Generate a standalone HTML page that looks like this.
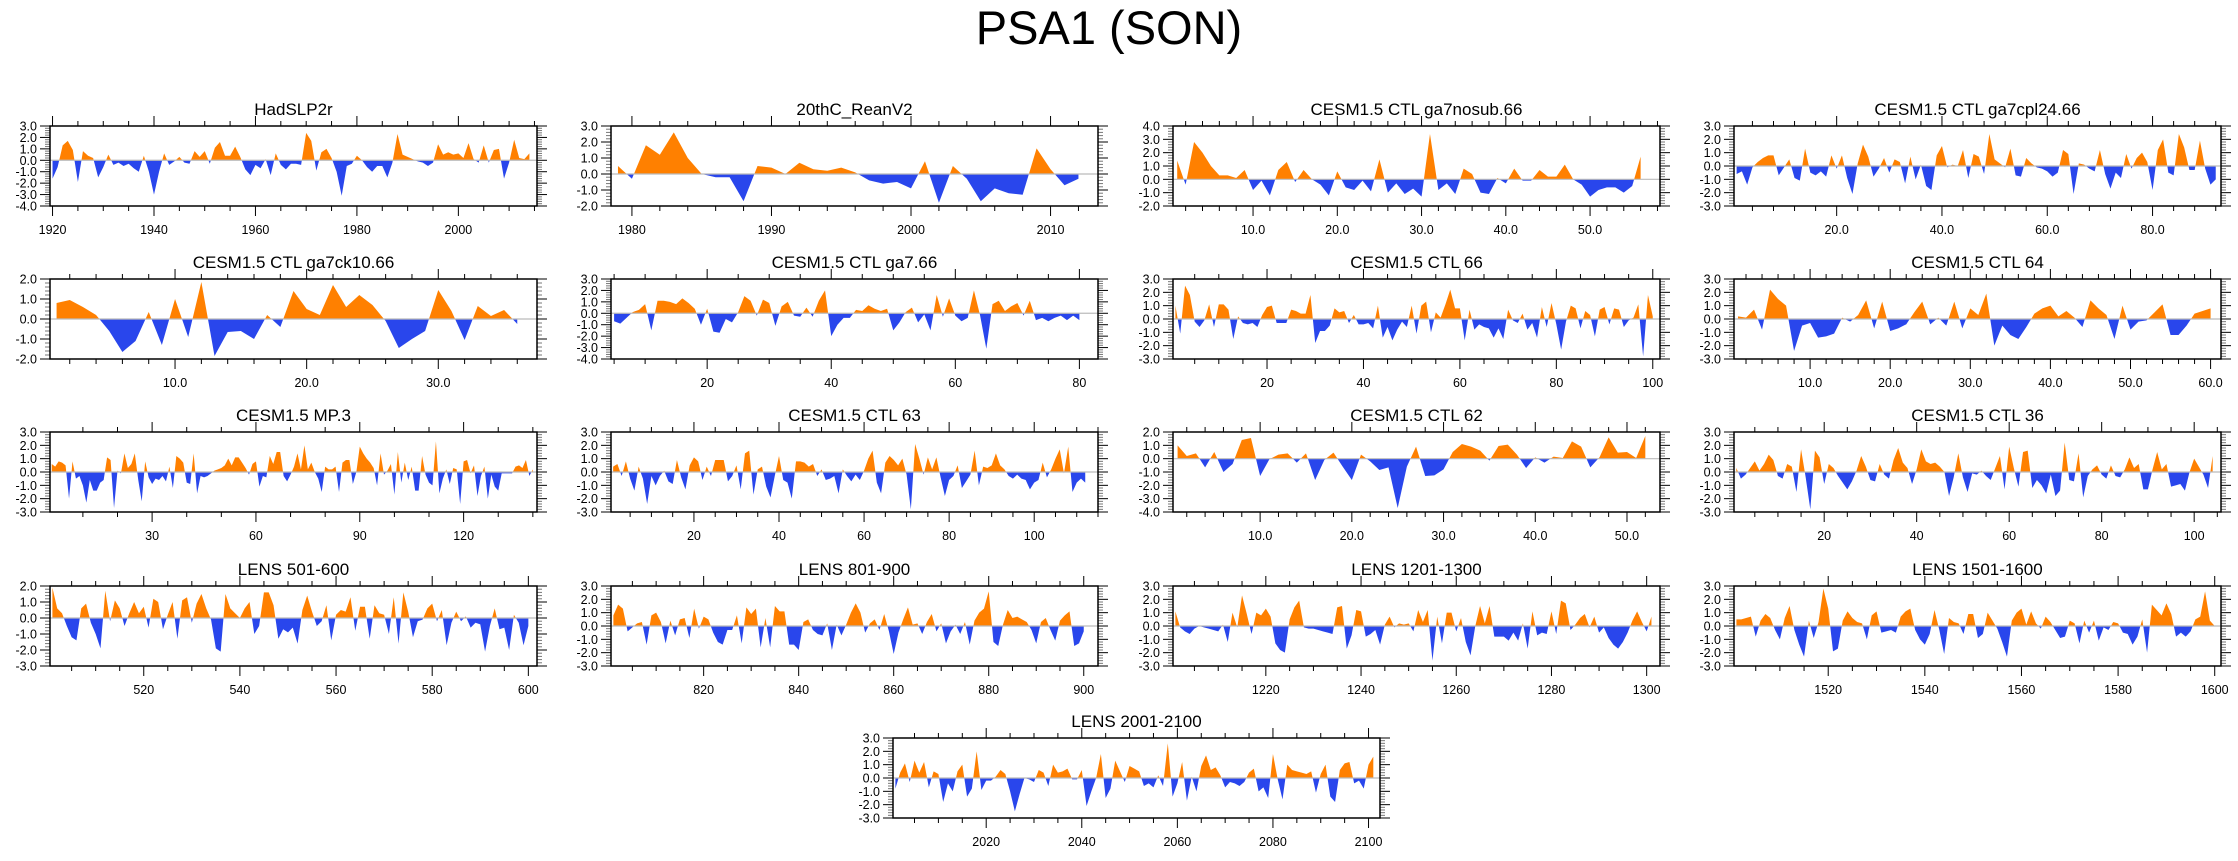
<!DOCTYPE html>
<html><head><meta charset="utf-8">
<style>
html,body{margin:0;padding:0;background:#fff;}
svg text{font-family:"Liberation Sans",Arial,sans-serif;}
</style></head>
<body>
<svg id="fig" width="2238" height="856" viewBox="0 0 2238 856" xmlns="http://www.w3.org/2000/svg">
<rect width="2238" height="856" fill="#fff"/>
<text x="1109" y="44" font-size="47" text-anchor="middle">PSA1 (SON)</text>
</svg>
<script>
const hadslp2r=[-1.6,-0.6,1.3,1.7,0.9,-1.9,0.8,0.4,0.2,-1.5,-0.6,0.5,-0.4,-0.2,-0.5,-0.3,-0.7,-1.0,0.4,-1.0,-3.0,-1.0,0.6,-0.4,-0.1,0.3,-0.2,-0.3,0.8,0.3,0.8,-0.3,1.1,1.6,0.4,0.4,1.2,0.3,-0.8,-1.3,-0.4,-0.7,0.1,-1.3,0.6,-0.4,-0.8,-0.3,-0.3,-0.4,2.4,1.7,-0.9,0.7,1.0,0.2,-1.0,-3.1,-0.5,-0.3,0.4,0.0,-0.6,-1.0,-0.5,-0.5,-1.5,-0.2,2.3,0.5,0.3,0.1,-0.1,-0.2,-0.5,-0.2,1.4,0.5,0.7,0.5,0.6,0.2,1.5,0.1,-0.2,1.3,-0.2,0.9,1.0,-1.6,-0.2,1.8,0.2,0.1,0.6];
const reanv2=[0.5,-0.3,1.8,1.2,2.6,1.0,0.0,-0.2,-0.2,-1.7,0.5,0.4,0.0,0.7,0.3,0.2,0.4,0.1,-0.4,-0.6,-0.5,-0.9,0.8,-1.8,0.5,-0.3,-1.7,-0.9,-1.2,-1.3,1.6,0.3,-0.7,-0.3];
const ga7nosub=[1.4,-0.4,2.8,2.0,1.0,0.3,0.3,0.1,0.7,-0.8,-0.1,-1.2,0.7,1.3,-0.2,0.7,0.0,-0.4,-1.2,0.6,-0.6,-0.8,-0.1,-0.9,1.5,-1.0,-0.3,-1.1,-0.7,-1.3,3.4,-0.8,-0.3,-1.1,0.8,0.4,-1.0,-1.1,0.1,-0.3,0.8,-0.1,-0.1,0.7,0.2,0.2,1.1,0.0,-0.4,-1.3,-0.8,-0.6,-0.6,-1.0,-0.5,1.7];
const ga7cpl24=[-0.6,-0.4,-1.4,-0.1,0.3,0.6,0.8,0.8,-0.7,-0.1,0.5,-0.9,-1.1,1.3,-0.5,-0.7,-0.4,-0.8,0.8,-0.2,0.8,-0.9,-2.1,0.2,1.6,0.7,-0.8,-0.2,0.6,-0.5,0.5,0.3,-1.3,0.7,-1.0,0.1,-1.5,-1.8,0.8,1.5,-0.1,0.1,0.0,1.2,-0.9,0.9,0.7,-0.6,2.4,0.5,0.2,-0.1,1.3,-0.7,-0.8,0.6,0.2,-0.1,-0.2,-0.4,-0.8,-0.5,1.2,0.9,-2.1,0.2,0.1,-0.2,-0.4,1.2,-0.6,-1.7,-0.5,-0.9,0.9,-0.2,0.6,1.0,0.3,-1.8,1.2,2.0,-0.5,-0.7,2.4,1.4,-0.3,-0.3,1.9,-0.2,-1.4,-1.0];
const ga7ck10=[0.8,0.95,0.6,0.2,-0.6,-1.65,-1.1,0.35,-1.3,1.0,-0.9,1.85,-1.85,-0.65,-0.6,-1.0,0.2,-0.4,1.4,0.5,0.2,1.7,0.6,1.2,0.7,-0.1,-1.45,-1.0,-0.6,1.45,0.4,-1.05,0.65,0.15,0.45,-0.25];
const ga766=[-0.7,-0.9,-0.4,0.1,0.3,0.8,-1.5,1.1,1.1,1.0,0.8,1.3,0.9,0.4,-1.0,0.4,-1.6,-1.7,-0.5,-0.8,0.1,1.5,1.1,-0.2,1.2,0.9,-1.1,0.6,1.0,-0.2,-0.3,0.5,-0.3,1.1,2.0,-2.0,-1.0,-0.4,-0.4,0.3,0.2,0.7,0.4,0.2,0.4,-1.5,-0.8,0.1,0.5,-0.8,-0.1,-1.5,1.6,-0.3,1.3,-0.2,-0.7,-0.4,2.0,-0.2,-3.1,0.8,1.1,0.2,0.6,0.9,-0.2,1.1,-0.6,-0.4,-0.7,-0.4,-0.2,-0.6,-0.2,-0.6];
const ctl66=[1.0,-1.1,2.5,1.8,-0.2,-0.6,-0.1,1.1,-0.6,1.1,1.1,0.7,-1.5,0.2,-0.3,-0.4,-0.3,-0.6,0.3,0.9,1.0,-0.3,-0.3,-0.3,0.7,0.6,0.4,0.4,1.8,-1.8,-0.9,-0.9,-0.5,0.8,0.5,0.6,-0.3,0.3,-0.4,-0.4,-0.3,-0.7,1.0,-1.4,-0.6,-1.6,-0.8,-0.2,-0.6,1.0,-1.1,1.0,1.3,-1.0,0.5,0.1,1.1,2.2,0.8,0.8,-1.6,0.7,-0.8,-0.4,-0.6,-0.7,-1.4,-0.7,-1.5,0.7,-0.1,-0.3,0.4,-0.8,-0.3,-1.4,0.9,-0.6,1.2,-0.4,-2.3,-0.2,1.0,0.8,-0.7,0.6,0.3,-1.3,0.7,0.9,-0.4,0.8,0.7,-0.6,-0.1,0.1,1.1,-2.8,1.8,0.2];
const ctl64=[0.2,0.1,0.7,-0.8,2.2,1.5,1.0,-2.4,-0.5,-0.3,-1.4,-1.3,-1.1,0.1,-0.2,0.3,1.4,-0.7,1.3,-0.9,-0.7,-0.4,0.5,1.3,-0.4,0.1,-0.5,1.3,-0.7,0.8,0.3,1.9,-2.0,-0.5,-1.2,-1.5,-0.6,0.4,0.8,1.0,0.2,0.6,0.1,-0.6,1.4,0.8,0.3,-1.5,1.0,-0.8,-0.2,-0.1,0.5,1.1,-1.2,-1.2,-0.5,0.4,0.6,0.8];
const mp3=[0.6,0.4,0.8,0.7,0.5,-2.0,0.8,-0.5,-0.3,-1.0,-2.3,-0.6,-1.4,-1.4,-0.8,-0.6,1.1,0.9,-2.7,0.1,-0.1,1.4,0.3,0.6,1.4,-0.6,-2.2,0.8,-0.4,-0.9,-0.5,-0.6,-0.3,-0.7,0.4,-1.2,1.2,1.0,0.7,-0.8,-0.9,1.4,-1.6,-0.3,-0.4,-0.3,-0.1,0.1,0.2,0.3,0.5,1.0,0.5,1.1,1.1,0.7,0.3,-0.2,0.6,0.8,-1.1,-0.3,-0.4,1.2,0.6,1.5,1.5,-0.3,-0.7,-0.2,0.4,1.4,0.2,2.0,0.2,0.7,0.0,-0.5,-1.5,0.4,0.2,0.2,0.4,-1.5,0.7,0.9,0.9,-0.9,0.0,1.9,1.4,1.0,0.7,0.3,-1.0,1.4,-0.2,0.1,0.6,-1.7,1.5,-0.8,0.7,-0.6,0.4,-1.4,-1.4,1.2,-0.2,-0.8,-1.0,2.3,-1.6,-0.5,0.2,-0.9,0.3,0.2,-2.4,0.8,0.9,-0.1,0.5,-1.8,-0.3,0.4,-2.0,-0.2,-1.1,-1.4,-0.1,-0.1,-0.1,-0.1,0.4,0.5,0.3,0.9,-0.3,0.2];
const ctl63=[0.4,0.6,-0.3,0.8,-0.5,-1.4,0.4,-0.5,-2.4,-0.3,-1.0,-0.3,0.1,-0.7,-0.9,0.9,-0.4,-1.3,0.5,1.1,0.8,-0.6,0.4,-0.3,0.9,0.9,0.9,-0.7,-0.3,0.5,-1.3,1.4,1.6,-1.7,0.2,0.4,-1.1,-1.9,-0.3,1.2,-0.6,-0.8,-2.0,0.8,0.8,0.7,0.4,0.6,-0.3,0.2,-0.6,-0.5,-0.3,-1.6,0.2,-0.3,-0.7,-0.2,-0.6,0.1,1.0,1.6,-0.8,-1.6,0.7,1.2,0.9,0.5,1.0,-0.2,-2.8,2.1,1.0,-0.2,1.1,0.2,1.1,-0.4,-1.8,-0.6,-0.3,0.5,-1.2,-0.7,-0.2,1.6,-1.0,0.4,0.3,0.5,1.4,0.5,0.2,-0.3,-0.5,-0.2,-0.5,-0.6,-1.3,-0.8,-0.6,0.7,-0.4,0.2,1.0,1.7,-0.1,1.9,-1.5,-0.8,-0.5,-0.8];
const ctl62=[1.0,0.2,0.4,-0.65,0.5,-1.0,-0.4,1.4,1.55,-1.3,-0.05,0.3,0.4,-0.3,0.4,-1.6,-0.1,0.45,-0.6,-1.6,0.3,-0.2,-0.85,-0.65,-3.7,-0.6,0.9,-1.3,-1.25,-0.8,0.5,1.1,0.9,0.6,-0.15,0.95,1.05,0.3,-0.7,0.1,-0.3,0.15,0.05,1.3,0.9,-0.65,0.1,1.6,0.45,0.5,0.05,1.7];
const ctl36=[0.3,-0.5,-0.2,0.3,0.8,0.1,0.6,1.3,0.9,-0.3,-0.5,0.6,0.4,-1.5,1.7,-0.4,-2.8,1.6,1.1,-0.9,0.6,0.3,-0.3,-0.8,-1.3,-0.7,0.1,1.2,0.4,-0.6,-0.7,0.6,-0.2,-0.5,0.9,1.8,0.7,0.3,-0.9,0.2,1.7,0.8,0.6,0.7,0.4,0.0,-1.8,-0.4,1.4,-0.4,-1.5,-0.1,-0.2,0.1,-0.3,-0.6,0.3,1.2,-1.3,1.9,0.3,-1.1,1.5,1.6,-1.2,-0.6,-1.0,-1.6,-0.2,-1.8,-1.4,2.2,-0.6,-0.7,1.4,-1.9,-0.3,0.2,0.5,-0.2,-0.5,0.5,-0.3,-0.4,0.2,1.1,0.3,0.6,-1.3,-1.3,0.2,1.5,0.2,0.6,-1.1,-1.0,-0.9,-1.4,0.0,1.0,0.4,-0.2,-1.2,1.2];
const lens501=[1.9,0.6,0.3,-0.5,-1.2,-1.4,0.6,0.9,-0.3,-1.0,-1.9,1.7,-0.2,1.1,0.6,-0.5,0.3,1.0,0.3,0.7,-0.6,1.2,1.0,-0.7,0.2,1.0,-1.3,1.1,1.3,-0.3,0.9,1.5,0.6,-0.1,-1.9,-2.1,1.5,0.6,0.3,0.0,0.6,1.0,-1.0,-0.5,1.6,1.6,0.8,-1.3,-0.7,-0.9,-0.6,-1.6,0.5,1.4,0.4,-0.5,-0.2,0.8,-1.4,0.2,0.5,0.4,1.3,-0.8,0.7,0.7,-1.3,0.8,0.3,0.2,-1.0,1.3,-1.6,1.6,0.4,-1.2,-0.2,-0.1,0.6,0.9,-0.2,0.5,-1.7,-0.3,0.4,-0.2,0.1,-0.6,-0.3,-0.4,-2.1,-0.5,0.6,-0.7,-0.6,-2.0,0.2,-0.3,-1.7,-0.5];
const lens801=[0.8,1.6,1.3,-0.4,-0.1,0.2,0.3,-1.4,0.8,1.0,0.3,-1.3,0.4,-0.7,0.5,0.6,-0.9,1.3,-0.2,0.7,0.5,-0.5,-1.2,-1.4,-0.3,-0.3,0.8,-1.3,1.4,0.9,1.3,-1.6,0.6,-1.6,1.5,1.1,1.1,-1.4,-1.4,-1.8,0.3,0.5,-0.3,-0.6,-0.7,0.2,-1.8,0.1,-0.7,0.1,1.0,1.7,1.0,-0.5,0.2,0.5,-0.3,0.9,-0.4,-2.1,-0.5,0.5,1.4,0.1,0.2,-0.6,0.3,0.9,-0.4,0.2,-1.3,-0.4,0.1,-0.6,0.3,-1.4,0.4,1.0,1.3,2.6,-1.2,-1.5,0.1,1.2,0.6,0.7,0.5,0.3,-0.3,-1.3,0.3,0.6,-0.3,-1.1,0.4,0.8,1.1,-1.5,-1.3,-0.4];
const lens1201=[1.1,-0.1,-0.4,-0.6,-0.2,0.0,-0.1,-0.2,-0.3,-0.4,0.1,-1.2,1.0,-0.1,2.3,0.9,-0.6,1.0,0.8,1.3,0.7,-1.3,-1.8,-2.0,0.5,1.4,1.9,-0.1,-0.2,-0.2,-0.3,-0.4,-0.5,-0.6,1.4,1.5,-1.7,-0.7,1.2,1.1,-0.8,-0.6,-0.3,-1.4,0.1,0.7,-0.1,0.2,0.1,0.2,-0.4,1.2,0.3,1.2,-2.6,0.7,-1.3,1.0,1.0,-0.4,0.6,-1.2,-2.2,0.0,1.5,0.2,1.5,-0.8,-0.8,-0.8,-1.1,-0.5,-1.1,0.2,-1.7,1.1,-0.7,-0.5,-0.6,1.1,-0.6,1.9,1.7,-0.3,0.1,0.6,0.9,-0.1,0.7,-0.5,-0.1,-0.9,-1.4,-1.7,-1.2,-0.5,0.4,1.1,0.3,-0.4,0.7];
const lens1501=[0.5,0.5,0.6,0.7,-0.8,0.4,0.9,0.6,-0.3,-1.0,0.6,1.5,-0.3,-1.4,-2.3,0.4,-0.9,0.3,2.8,1.3,-1.9,-1.7,0.4,1.1,0.6,0.3,0.2,-1.0,0.8,1.1,-0.5,-0.4,-0.3,-0.5,0.7,1.1,1.3,-0.3,-1.0,-1.4,-0.6,1.2,-0.3,-2.1,0.6,0.3,0.2,-0.6,0.9,0.9,-0.9,-0.6,1.0,0.4,-0.2,-1.2,-2.3,0.4,1.0,1.3,0.1,1.1,0.2,-0.2,0.7,0.3,-0.3,-0.9,-0.8,0.4,0.2,-1.3,0.4,-0.5,0.4,-1.1,-0.1,-0.3,0.3,0.2,-0.5,-0.6,-1.4,-0.8,0.5,-2.0,1.6,1.2,0.8,1.7,0.9,-0.8,-0.5,-0.8,-0.4,0.5,0.7,2.6,0.4,0.0];
const lens2001=[-0.8,0.4,1.1,-0.3,1.3,0.4,1.2,-0.7,0.5,0.3,-1.8,-0.4,-1.0,0.5,1.0,-1.4,-0.8,2.0,-0.9,-0.2,-0.2,0.1,0.6,0.3,-1.0,-2.5,-1.2,0.0,-0.1,-0.3,0.6,0.4,-0.6,1.0,0.4,0.5,0.7,-0.1,-0.1,0.6,-2.1,-1.0,0.0,1.8,-1.5,-0.8,1.3,0.5,-0.3,0.9,0.7,0.5,-0.6,-0.4,-0.7,0.2,-0.6,2.6,-1.4,-0.4,1.2,-1.7,0.1,-1.0,0.9,1.7,0.6,0.8,0.2,-0.7,-0.3,-0.4,-0.6,-0.3,0.4,0.7,-1.0,-0.7,-1.5,1.8,-0.1,-1.6,1.0,0.6,0.5,0.4,0.3,0.5,-1.1,0.3,1.0,-1.4,-1.8,0.6,1.1,1.2,-0.4,-0.2,-0.8,1.0,1.6];

const panelTitles=["HadSLP2r","20thC_ReanV2","CESM1.5 CTL ga7nosub.66","CESM1.5 CTL ga7cpl24.66","CESM1.5 CTL ga7ck10.66","CESM1.5 CTL ga7.66","CESM1.5 CTL 66","CESM1.5 CTL 64","CESM1.5 MP.3","CESM1.5 CTL 63","CESM1.5 CTL 62","CESM1.5 CTL 36","LENS 501-600","LENS 801-900","LENS 1201-1300","LENS 1501-1600","LENS 2001-2100"];
const panelSeries=[hadslp2r,reanv2,ga7nosub,ga7cpl24,ga7ck10,ga766,ctl66,ctl64,mp3,ctl63,ctl62,ctl36,lens501,lens801,lens1201,lens1501,lens2001];
const panelX0=[1920,1979,1,1,1,5,1,1,1,1,1,1,501,801,1201,1501,2001];
const panelYRange=[[-4,3],[-2,3],[-2,4],[-3,3],[-2,2],[-4,3],[-3,3],[-3,3],[-3,3],[-3,3],[-4,2],[-3,3],[-3,2],[-3,3],[-3,3],[-3,3],[-3,3]];
const panelXMajor=[[1920,1940,1960,1980,2000],[1980,1990,2000,2010],[10,20,30,40,50],[20,40,60,80],[10,20,30],[20,40,60,80],[20,40,60,80,100],[10,20,30,40,50,60],[30,60,90,120],[20,40,60,80,100],[10,20,30,40,50],[20,40,60,80,100],[520,540,560,580,600],[820,840,860,880,900],[1220,1240,1260,1280,1300],[1520,1540,1560,1580,1600],[2020,2040,2060,2080,2100]];
const panelXMinor=[5,2,2,4,2,5,5,2,10,5,2,5,5,5,5,5,5];
const panelDec=[0,0,1,1,1,0,0,1,0,0,1,0,0,0,0,0,0];

const NS="http://www.w3.org/2000/svg";
const svg=document.getElementById('fig');
function mk(tag,attrs,parent){const e=document.createElementNS(NS,tag);for(const k in attrs)e.setAttribute(k,attrs[k]);(parent||svg).appendChild(e);return e;}
const colL=[50,611,1173,1734],rowT=[126,279,432,586];
const W=487,H=80;
const padR=[1.5,1.4,2.3,1.0,1.5,3.0,1.5,1.3,1.2,3.0,1.6,1.8,1.8,3.0,1.8,1.3,1.4];

for(let p=0;p<17;p++){
  const L=p<16?colL[p%4]:893, T=p<16?rowT[Math.floor(p/4)]:738;
  const data=panelSeries[p], x0=panelX0[p];
  const xmin=x0-0.5, xmax=x0+data.length-1+padR[p];
  const [ymin,ymax]=panelYRange[p];
  const sx=v=>L+(v-xmin)/(xmax-xmin)*W;
  const sy=v=>T+(ymax-v)/(ymax-ymin)*H;
  const g=mk('g',{});
  
  
  const t=mk('text',{x:L+W/2,y:T-11,'font-size':17,'text-anchor':'middle'},g);
  t.textContent=panelTitles[p];
  
  
  const pts=[];
  for(let i=0;i<data.length;i++){
    const x=x0+i,v=data[i];
    if(i>0){const pv=data[i-1];if((pv>0&&v<0)||(pv<0&&v>0)){const f=pv/(pv-v);pts.push([x-1+f,0]);}}
    pts.push([x,v]);
  }
  const first=pts[0][0],last=pts[pts.length-1][0];
  let pos='M'+sx(first)+','+sy(0),neg=pos;
  for(const [x,v] of pts){pos+=' L'+sx(x).toFixed(2)+','+sy(Math.max(v,0)).toFixed(2);neg+=' L'+sx(x).toFixed(2)+','+sy(Math.min(v,0)).toFixed(2);}
  pos+=' L'+sx(last)+','+sy(0)+' Z';neg+=' L'+sx(last)+','+sy(0)+' Z';
  const pa=mk('path',{d:pos,fill:'#ff8000'},g);
  
  
  const na=mk('path',{d:neg,fill:'#2946ec'},g);
  
  
  const zl=mk('line',{x1:L,x2:L+W,y1:sy(0),y2:sy(0),stroke:'#bbb','stroke-width':1.2},g);
  
  
  for(let v=ymin;v<=ymax+1e-9;v+=0.2){
    const y=sy(v),maj=Math.abs(v-Math.round(v))<1e-6;
    const len=maj?10:5;
    mk('line',{x1:L-len,x2:L,y1:y,y2:y,stroke:maj?'#000':'#777','stroke-width':1},g);
    mk('line',{x1:L+W,x2:L+W+len,y1:y,y2:y,stroke:maj?'#000':'#777','stroke-width':1},g);
    if(maj){const tl=mk('text',{x:L-13,y:y+4.5,'font-size':12.5,'text-anchor':'end'},g);tl.textContent=Math.round(v).toFixed(1);
      
      }
  }
  const ms=panelXMinor[p];
  for(let v=Math.ceil(xmin/ms)*ms;v<=xmax;v+=ms){
    const x=sx(v);const maj=panelXMajor[p].includes(v)||(v%(panelXMajor[p][1]-panelXMajor[p][0])===0);
    const len=maj?10:5;
    mk('line',{x1:x,x2:x,y1:T+H,y2:T+H+len,stroke:'#000','stroke-width':1},g);
    mk('line',{x1:x,x2:x,y1:T-len,y2:T,stroke:'#000','stroke-width':1},g);
  }
  for(const v of panelXMajor[p]){
    const xl=mk('text',{x:sx(v),y:T+H+28,'font-size':12.5,'text-anchor':'middle'},g);
    xl.textContent=panelDec[p]?v.toFixed(1):String(v);
    
    
  }
  const box=mk('rect',{x:L,y:T,width:W,height:H,fill:'none',stroke:'#000','stroke-width':1.5},g);
  
  
}
</script>
</body></html>
